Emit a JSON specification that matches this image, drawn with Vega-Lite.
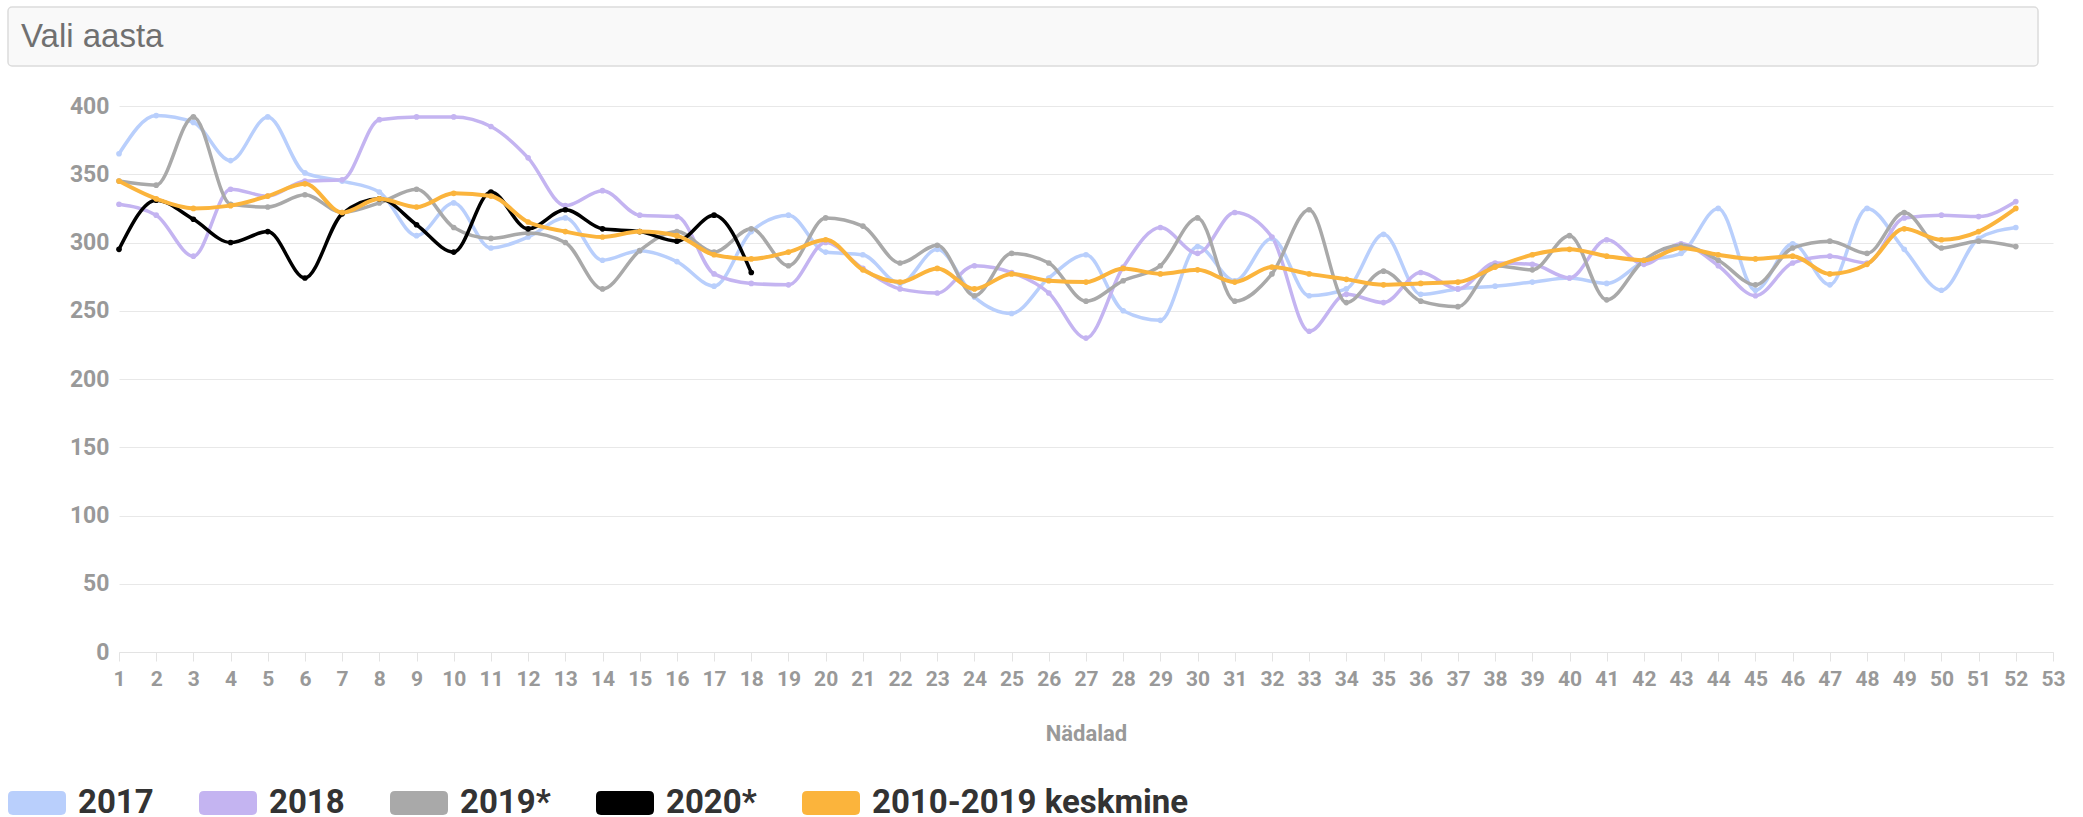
{
  "$schema": "https://vega.github.io/schema/vega-lite/v6.json",
  "background": "#ffffff",
  "padding": {"left": 7, "top": 6, "right": 0, "bottom": 0},
  "spacing": 28,
  "align": "none",
  "config": {
    "view": {"stroke": null},
    "axis": {
      "labelFont": "Roboto", "labelFontSize": 22, "labelFontWeight": "bold", "labelColor": "#999999",
      "titleFont": "Roboto", "titleFontSize": 22, "titleFontWeight": "bold", "titleColor": "#999999",
      "gridColor": "#e8e8e8", "domainColor": "#e3e3e3", "tickColor": "#e3e3e3",
      "labelFlush": false, "labelOverlap": false, "labelBound": false
    }
  },
  "resolve": {"scale": {"x": "independent", "y": "independent"}},
  "vconcat": [
    {
      "width": 2030,
      "height": 59,
      "view": {"fill": "#f9f9f9", "stroke": "#dcdcdc", "strokeWidth": 1.5, "cornerRadius": 4},
      "data": {"values": [{"label": "Vali aasta"}]},
      "mark": {"type": "text", "align": "left", "baseline": "middle", "dx": 13, "font": "Liberation Sans", "fontSize": 33, "color": "#707070"},
      "encoding": {
        "x": {"datum": 0, "type": "quantitative", "scale": {"domain": [0, 1]}, "axis": null},
        "y": {"datum": 0, "type": "quantitative", "scale": {"domain": [-1, 1]}, "axis": null},
        "text": {"field": "label"}
      }
    },
    {
      "width": 2045,
      "height": 546,
      "data": {"values": [
        {"week":1,"series":"2017","value":365},{"week":2,"series":"2017","value":393},{"week":3,"series":"2017","value":388},{"week":4,"series":"2017","value":360},{"week":5,"series":"2017","value":392},{"week":6,"series":"2017","value":351},{"week":7,"series":"2017","value":345},{"week":8,"series":"2017","value":337},{"week":9,"series":"2017","value":305},{"week":10,"series":"2017","value":329},
        {"week":11,"series":"2017","value":296},{"week":12,"series":"2017","value":304},{"week":13,"series":"2017","value":318},{"week":14,"series":"2017","value":287},{"week":15,"series":"2017","value":294},{"week":16,"series":"2017","value":286},{"week":17,"series":"2017","value":268},{"week":18,"series":"2017","value":308},{"week":19,"series":"2017","value":320},{"week":20,"series":"2017","value":293},
        {"week":21,"series":"2017","value":291},{"week":22,"series":"2017","value":270},{"week":23,"series":"2017","value":295},{"week":24,"series":"2017","value":260},{"week":25,"series":"2017","value":248},{"week":26,"series":"2017","value":274},{"week":27,"series":"2017","value":291},{"week":28,"series":"2017","value":250},{"week":29,"series":"2017","value":243},{"week":30,"series":"2017","value":297},
        {"week":31,"series":"2017","value":272},{"week":32,"series":"2017","value":303},{"week":33,"series":"2017","value":261},{"week":34,"series":"2017","value":266},{"week":35,"series":"2017","value":306},{"week":36,"series":"2017","value":262},{"week":37,"series":"2017","value":266},{"week":38,"series":"2017","value":268},{"week":39,"series":"2017","value":271},{"week":40,"series":"2017","value":274},
        {"week":41,"series":"2017","value":270},{"week":42,"series":"2017","value":286},{"week":43,"series":"2017","value":292},{"week":44,"series":"2017","value":325},{"week":45,"series":"2017","value":265},{"week":46,"series":"2017","value":299},{"week":47,"series":"2017","value":269},{"week":48,"series":"2017","value":325},{"week":49,"series":"2017","value":295},{"week":50,"series":"2017","value":265},
        {"week":51,"series":"2017","value":303},{"week":52,"series":"2017","value":311},

        {"week":1,"series":"2018","value":328},{"week":2,"series":"2018","value":320},{"week":3,"series":"2018","value":290},{"week":4,"series":"2018","value":339},{"week":5,"series":"2018","value":334},{"week":6,"series":"2018","value":345},{"week":7,"series":"2018","value":346},{"week":8,"series":"2018","value":390},{"week":9,"series":"2018","value":392},{"week":10,"series":"2018","value":392},
        {"week":11,"series":"2018","value":385},{"week":12,"series":"2018","value":362},{"week":13,"series":"2018","value":327},{"week":14,"series":"2018","value":338},{"week":15,"series":"2018","value":320},{"week":16,"series":"2018","value":319},{"week":17,"series":"2018","value":277},{"week":18,"series":"2018","value":270},{"week":19,"series":"2018","value":269},{"week":20,"series":"2018","value":300},
        {"week":21,"series":"2018","value":281},{"week":22,"series":"2018","value":266},{"week":23,"series":"2018","value":263},{"week":24,"series":"2018","value":283},{"week":25,"series":"2018","value":278},{"week":26,"series":"2018","value":263},{"week":27,"series":"2018","value":230},{"week":28,"series":"2018","value":282},{"week":29,"series":"2018","value":311},{"week":30,"series":"2018","value":292},
        {"week":31,"series":"2018","value":322},{"week":32,"series":"2018","value":304},{"week":33,"series":"2018","value":235},{"week":34,"series":"2018","value":262},{"week":35,"series":"2018","value":256},{"week":36,"series":"2018","value":278},{"week":37,"series":"2018","value":266},{"week":38,"series":"2018","value":285},{"week":39,"series":"2018","value":284},{"week":40,"series":"2018","value":274},
        {"week":41,"series":"2018","value":302},{"week":42,"series":"2018","value":284},{"week":43,"series":"2018","value":299},{"week":44,"series":"2018","value":283},{"week":45,"series":"2018","value":261},{"week":46,"series":"2018","value":285},{"week":47,"series":"2018","value":290},{"week":48,"series":"2018","value":285},{"week":49,"series":"2018","value":318},{"week":50,"series":"2018","value":320},
        {"week":51,"series":"2018","value":319},{"week":52,"series":"2018","value":330},

        {"week":1,"series":"2019*","value":345},{"week":2,"series":"2019*","value":342},{"week":3,"series":"2019*","value":392},{"week":4,"series":"2019*","value":328},{"week":5,"series":"2019*","value":326},{"week":6,"series":"2019*","value":335},{"week":7,"series":"2019*","value":322},{"week":8,"series":"2019*","value":329},{"week":9,"series":"2019*","value":339},{"week":10,"series":"2019*","value":311},
        {"week":11,"series":"2019*","value":303},{"week":12,"series":"2019*","value":307},{"week":13,"series":"2019*","value":300},{"week":14,"series":"2019*","value":266},{"week":15,"series":"2019*","value":294},{"week":16,"series":"2019*","value":308},{"week":17,"series":"2019*","value":293},{"week":18,"series":"2019*","value":310},{"week":19,"series":"2019*","value":283},{"week":20,"series":"2019*","value":318},
        {"week":21,"series":"2019*","value":312},{"week":22,"series":"2019*","value":285},{"week":23,"series":"2019*","value":298},{"week":24,"series":"2019*","value":261},{"week":25,"series":"2019*","value":292},{"week":26,"series":"2019*","value":285},{"week":27,"series":"2019*","value":257},{"week":28,"series":"2019*","value":272},{"week":29,"series":"2019*","value":283},{"week":30,"series":"2019*","value":318},
        {"week":31,"series":"2019*","value":257},{"week":32,"series":"2019*","value":277},{"week":33,"series":"2019*","value":324},{"week":34,"series":"2019*","value":256},{"week":35,"series":"2019*","value":279},{"week":36,"series":"2019*","value":257},{"week":37,"series":"2019*","value":253},{"week":38,"series":"2019*","value":283},{"week":39,"series":"2019*","value":280},{"week":40,"series":"2019*","value":305},
        {"week":41,"series":"2019*","value":258},{"week":42,"series":"2019*","value":287},{"week":43,"series":"2019*","value":298},{"week":44,"series":"2019*","value":287},{"week":45,"series":"2019*","value":269},{"week":46,"series":"2019*","value":296},{"week":47,"series":"2019*","value":301},{"week":48,"series":"2019*","value":292},{"week":49,"series":"2019*","value":322},{"week":50,"series":"2019*","value":296},
        {"week":51,"series":"2019*","value":301},{"week":52,"series":"2019*","value":297},

        {"week":1,"series":"2020*","value":295},{"week":2,"series":"2020*","value":331},{"week":3,"series":"2020*","value":317},{"week":4,"series":"2020*","value":300},{"week":5,"series":"2020*","value":308},{"week":6,"series":"2020*","value":274},{"week":7,"series":"2020*","value":321},{"week":8,"series":"2020*","value":332},{"week":9,"series":"2020*","value":313},{"week":10,"series":"2020*","value":293},
        {"week":11,"series":"2020*","value":337},{"week":12,"series":"2020*","value":310},{"week":13,"series":"2020*","value":324},{"week":14,"series":"2020*","value":310},{"week":15,"series":"2020*","value":308},{"week":16,"series":"2020*","value":301},{"week":17,"series":"2020*","value":320},{"week":18,"series":"2020*","value":278},

        {"week":1,"series":"2010-2019 keskmine","value":345},{"week":2,"series":"2010-2019 keskmine","value":332},{"week":3,"series":"2010-2019 keskmine","value":325},{"week":4,"series":"2010-2019 keskmine","value":327},{"week":5,"series":"2010-2019 keskmine","value":334},{"week":6,"series":"2010-2019 keskmine","value":343},{"week":7,"series":"2010-2019 keskmine","value":322},{"week":8,"series":"2010-2019 keskmine","value":332},{"week":9,"series":"2010-2019 keskmine","value":326},{"week":10,"series":"2010-2019 keskmine","value":336},
        {"week":11,"series":"2010-2019 keskmine","value":334},{"week":12,"series":"2010-2019 keskmine","value":315},{"week":13,"series":"2010-2019 keskmine","value":308},{"week":14,"series":"2010-2019 keskmine","value":304},{"week":15,"series":"2010-2019 keskmine","value":308},{"week":16,"series":"2010-2019 keskmine","value":305},{"week":17,"series":"2010-2019 keskmine","value":291},{"week":18,"series":"2010-2019 keskmine","value":288},{"week":19,"series":"2010-2019 keskmine","value":293},{"week":20,"series":"2010-2019 keskmine","value":302},
        {"week":21,"series":"2010-2019 keskmine","value":280},{"week":22,"series":"2010-2019 keskmine","value":271},{"week":23,"series":"2010-2019 keskmine","value":281},{"week":24,"series":"2010-2019 keskmine","value":266},{"week":25,"series":"2010-2019 keskmine","value":277},{"week":26,"series":"2010-2019 keskmine","value":272},{"week":27,"series":"2010-2019 keskmine","value":271},{"week":28,"series":"2010-2019 keskmine","value":281},{"week":29,"series":"2010-2019 keskmine","value":277},{"week":30,"series":"2010-2019 keskmine","value":280},
        {"week":31,"series":"2010-2019 keskmine","value":271},{"week":32,"series":"2010-2019 keskmine","value":282},{"week":33,"series":"2010-2019 keskmine","value":277},{"week":34,"series":"2010-2019 keskmine","value":273},{"week":35,"series":"2010-2019 keskmine","value":269},{"week":36,"series":"2010-2019 keskmine","value":270},{"week":37,"series":"2010-2019 keskmine","value":271},{"week":38,"series":"2010-2019 keskmine","value":282},{"week":39,"series":"2010-2019 keskmine","value":291},{"week":40,"series":"2010-2019 keskmine","value":295},
        {"week":41,"series":"2010-2019 keskmine","value":290},{"week":42,"series":"2010-2019 keskmine","value":287},{"week":43,"series":"2010-2019 keskmine","value":296},{"week":44,"series":"2010-2019 keskmine","value":291},{"week":45,"series":"2010-2019 keskmine","value":288},{"week":46,"series":"2010-2019 keskmine","value":290},{"week":47,"series":"2010-2019 keskmine","value":277},{"week":48,"series":"2010-2019 keskmine","value":284},{"week":49,"series":"2010-2019 keskmine","value":310},{"week":50,"series":"2010-2019 keskmine","value":302},
        {"week":51,"series":"2010-2019 keskmine","value":308},{"week":52,"series":"2010-2019 keskmine","value":325}
      ]},
      "encoding": {
        "x": {
          "field": "week", "type": "quantitative",
          "scale": {"domain": [1, 53], "nice": false, "zero": false, "range": [111, 2045]},
          "axis": {
            "title": "Nädalad", "grid": false, "tickSize": 9, "labelPadding": 7, "titlePadding": 34, "labelFontSize": 21,
            "values": [1,2,3,4,5,6,7,8,9,10,11,12,13,14,15,16,17,18,19,20,21,22,23,24,25,26,27,28,29,30,31,32,33,34,35,36,37,38,39,40,41,42,43,44,45,46,47,48,49,50,51,52,53]
          }
        },
        "y": {
          "field": "value", "type": "quantitative",
          "scale": {"domain": [0, 400], "nice": false},
          "axis": {
            "title": null, "domain": false, "ticks": false, "labelPadding": 10, "offset": -111, "labelFontSize": 23,
            "values": [0, 50, 100, 150, 200, 250, 300, 350, 400]
          }
        },
        "color": {
          "field": "series", "type": "nominal",
          "scale": {
            "domain": ["2017", "2018", "2019*", "2020*", "2010-2019 keskmine"],
            "range": ["#b9cffc", "#c4b4f1", "#a9a9a9", "#000000", "#fbb43c"]
          },
          "legend": {
            "title": null, "orient": "bottom", "direction": "horizontal", "offset": 30,
            "symbolType": "M-0.83,-0.414 L0.83,-0.414 Q1,-0.414 1,-0.244 L1,0.244 Q1,0.414 0.83,0.414 L-0.83,0.414 Q-1,0.414 -1,0.244 L-1,-0.244 Q-1,-0.414 -0.83,-0.414 Z",
            "symbolSize": 3364, "symbolStrokeWidth": 0, "symbolOpacity": 1,
            "labelFont": "Roboto", "labelFontSize": 33, "labelFontWeight": "bold", "labelColor": "#333333",
            "labelOffset": 12, "columnPadding": 45, "labelLimit": 600,
            "encode": {"symbols": {"update": {"fill": {"scale": "color", "field": "value"}, "fillOpacity": {"value": 1}, "strokeWidth": {"value": 0}}}}
          }
        }
      },
      "layer": [
        {
          "transform": [{"filter": "datum.series !== '2010-2019 keskmine'"}],
          "mark": {"type": "line", "interpolate": "monotone", "strokeWidth": 3.5, "point": {"filled": true, "size": 32}},
          "encoding": {
            "strokeWidth": {"condition": {"test": "datum.series === '2020*'", "value": 4.5}, "value": 3.5}
          }
        },
        {
          "transform": [{"filter": "datum.series === '2010-2019 keskmine'"}],
          "mark": {"type": "line", "interpolate": "monotone", "strokeWidth": 4, "point": {"filled": true, "size": 32}}
        }
      ]
    }
  ]
}
